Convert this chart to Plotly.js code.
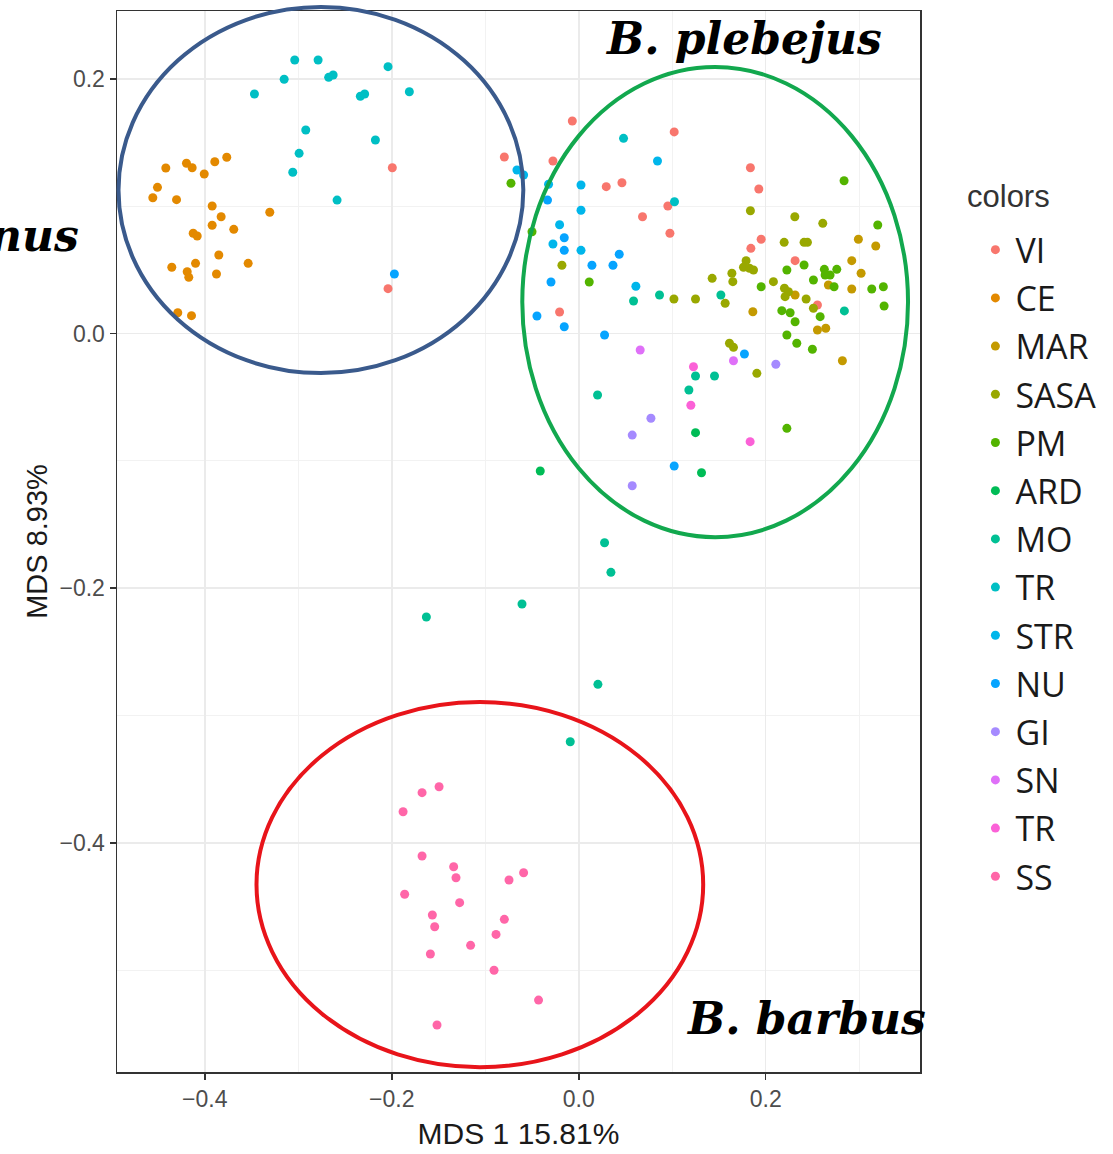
<!DOCTYPE html>
<html>
<head>
<meta charset="utf-8">
<script src="https://cdn.plot.ly/plotly-3.0.1.min.js"></script>
<style>html,body{margin:0;padding:0;background:#fff;}#chart{width:1113px;height:1154px;}</style>
</head>
<body>
<div id="chart"></div>
<script>
// ---- data (MDS coordinates) ----
var groupNames = ["VI","CE","MAR","SASA","PM","ARD","MO","TR","STR","NU","GI","SN","TR","SS"];
var groupColors = ["#F8766D","#E38900","#C49A00","#99A800","#53B400","#00BC56","#00C094","#00BFC4","#00B6EB","#06A4FF","#A58AFF","#DF70F8","#FB61D7","#FF66A8"];

var viX = [-0.0069,0.1021,-0.0796,-0.0276,0.0294,0.0462,0.0953,0.0682,0.0975,0.1836,0.1926,0.1951,0.1841,0.2314,-0.0205,-0.1994,-0.2040,0.2553];
var viY = [0.1670,0.1584,0.1387,0.1356,0.1154,0.1185,0.1002,0.0918,0.0788,0.1303,0.1136,0.0741,0.0670,0.0573,0.0170,0.1303,0.0353,0.0225];

var ceX = [-0.4417,-0.4196,-0.4135,-0.4006,-0.3893,-0.3765,-0.4506,-0.4556,-0.4302,-0.3921,-0.3825,-0.3305,-0.3921,-0.3690,-0.4124,-0.4081,-0.3850,-0.3536,-0.4353,-0.4188,-0.4171,-0.4099,-0.3875,-0.4289,-0.4142];
var ceY = [0.1301,0.1338,0.1303,0.1254,0.1350,0.1385,0.1149,0.1067,0.1052,0.1002,0.0918,0.0953,0.0851,0.0819,0.0788,0.0767,0.0617,0.0552,0.0521,0.0486,0.0442,0.0552,0.0468,0.0164,0.0141];

var marX = [0.2991,0.3177,0.2920,0.3020,0.2920,0.1862,0.2553,0.2642,0.2820,0.2670,0.2314];
var marY = [0.0741,0.0688,0.0573,0.0474,0.0350,0.0172,0.0028,0.0042,-0.0213,0.0382,0.0303];

var sasaX = [0.2197,0.2410,0.2446,0.2610,0.1836,0.2311,0.1790,0.1762,0.1826,0.1869,0.1638,0.1648,0.2082,0.1427,0.1566,0.1018,0.1249,0.2200,0.2243,0.2207,0.2432,0.2510,0.1612,0.1655,0.1905,-0.0180];
var sasaY = [0.0717,0.0717,0.0717,0.0866,0.0965,0.0918,0.0573,0.0521,0.0513,0.0500,0.0474,0.0408,0.0408,0.0434,0.0238,0.0272,0.0272,0.0356,0.0329,0.0290,0.0272,0.0199,-0.0076,-0.0108,-0.0312,0.0537];

var pmX = [-0.0725,0.0112,-0.0500,0.2838,0.3198,0.2410,0.2226,0.2627,0.2760,0.2688,0.2635,0.2510,0.1951,0.2731,0.3134,0.3258,0.3266,0.2172,0.2261,0.2314,0.2582,0.2226,0.2332,0.2499,0.2226];
var pmY = [0.1181,0.0405,0.0800,0.1201,0.0853,0.0539,0.0500,0.0505,0.0505,0.0460,0.0460,0.0421,0.0368,0.0368,0.0350,0.0368,0.0217,0.0180,0.0164,0.0093,0.0133,-0.0011,-0.0076,-0.0123,-0.0744];

var ardX = [0.1249,-0.0412,0.1313];
var ardY = [-0.0778,-0.1079,-0.1093];

var moX = [0.0586,0.0864,0.1520,0.2841,0.1249,0.1452,0.1178,0.0201,0.0276,0.0344,-0.0607,-0.1630,0.0205,-0.0091];
var moY = [0.0256,0.0303,0.0303,0.0178,-0.0333,-0.0333,-0.0443,-0.0482,-0.1643,-0.1875,-0.2124,-0.2226,-0.2755,-0.3206];

var trX = [-0.3038,-0.2788,-0.3151,-0.2675,-0.2627,-0.2040,-0.3469,-0.2336,-0.2290,-0.1812,-0.2920,-0.2175,-0.2991,-0.3059,-0.2585,0.0479,0.1024];
var trY = [0.2149,0.2149,0.1998,0.2013,0.2031,0.2097,0.1882,0.1864,0.1882,0.1900,0.1599,0.1521,0.1416,0.1267,0.1049,0.1534,0.1036];

var strX = [0.0842,0.0024,0.0024,-0.0661,-0.0590,-0.0323,-0.0205,-0.0276,0.0024,0.0611];
var strY = [0.1356,0.1167,0.0969,0.1285,0.1246,0.1173,0.0855,0.0704,0.0654,0.0372];

var nuX = [-0.0334,-0.0155,-0.0155,0.0141,0.0366,0.0433,-0.0297,-0.0447,-0.0155,0.0276,0.1772,0.1021,-0.1972];
var nuY = [0.1049,0.0753,0.0654,0.0537,0.0537,0.0623,0.0405,0.0138,0.0054,-0.0011,-0.0160,-0.1040,0.0468];

var giX = [0.0772,0.0572,0.0572,0.2108];
var giY = [-0.0665,-0.0797,-0.1195,-0.0241];

var snX = [0.0657,0.1655];
var snY = [-0.0129,-0.0213];

var tr2X = [0.1227,0.1199,0.1833];
var tr2Y = [-0.0260,-0.0563,-0.0849];

var ssX = [-0.1494,-0.1676,-0.1879,-0.1676,-0.1338,-0.1313,-0.0746,-0.0590,-0.1862,-0.1274,-0.1566,-0.1541,-0.0796,-0.0885,-0.1157,-0.1587,-0.0906,-0.0430,-0.1516];
var ssY = [-0.3559,-0.3606,-0.3756,-0.4103,-0.4188,-0.4274,-0.4292,-0.4235,-0.4404,-0.4470,-0.4567,-0.4659,-0.4601,-0.4719,-0.4805,-0.4873,-0.5001,-0.5235,-0.5431];

var xTicks = [-0.4,-0.2,0,0.2];
var yTicks = [-0.4,-0.2,0,0.2];
var xMinor = [-0.3,-0.1,0.1,0.3];
var yMinor = [-0.5,-0.3,-0.1,0.1];

// group ellipses (data units): [x0, x1, y0, y1]
var ellBlue  = [-0.4923,-0.0593,-0.0310,0.2566];
var ellGreen = [-0.0604,0.3522,-0.1599,0.2094];
var ellRed   = [-0.3447,0.1331,-0.5762,-0.2894];

var xRange = [-0.4939,0.3650];
var yRange = [-0.5800,0.2534];

// ---- build ----
var xs = [viX,ceX,marX,sasaX,pmX,ardX,moX,trX,strX,nuX,giX,snX,tr2X,ssX];
var ys = [viY,ceY,marY,sasaY,pmY,ardY,moY,trY,strY,nuY,giY,snY,tr2Y,ssY];
var traces = groupNames.map(function(n,i){
  return {type:'scatter', mode:'markers', name:n, x:xs[i], y:ys[i],
    legendgroup:'g'+i,
    marker:{color:groupColors[i], size:9, line:{width:0}}, hoverinfo:'x+y+name'};
});

function px(v){return (v-xRange[0])/(xRange[1]-xRange[0]);}
function py(v){return (v-yRange[0])/(yRange[1]-yRange[0]);}
function ell(e,col){
  return {type:'circle', xref:'paper', yref:'paper', x0:px(e[0]), x1:px(e[1]), y0:py(e[2]), y1:py(e[3]),
    line:{color:col, width:4}, layer:'above', fillcolor:'rgba(0,0,0,0)'};
}

var serif = {family:'"DejaVu Serif", serif', size:44, color:'#000000'};
var sans = '"Liberation Sans", Arial, sans-serif';

var layout = {
  width:1113, height:1154,
  margin:{l:117, r:193, t:11, b:82},
  paper_bgcolor:'#ffffff', plot_bgcolor:'#ffffff',
  showlegend:true,
  font:{family:sans, color:'#4D4D4D'},
  xaxis:{range:xRange, tickmode:'array', tickvals:xTicks, tickformat:'.1f',
    showgrid:true, gridcolor:'#EBEBEB', gridwidth:1.5, zeroline:false,
    showline:true, mirror:true, linecolor:'#333333', linewidth:1.5,
    ticks:'outside', ticklen:6, tickwidth:1.5, tickcolor:'#333333',
    tickfont:{size:23, color:'#4D4D4D', family:sans},
    minor:{tickvals:xMinor, showgrid:true, gridcolor:'#F2F2F2', gridwidth:1, ticks:''},
    title:{text:'MDS 1 15.81%', font:{size:30, color:'#1A1A1A', family:sans}, standoff:12},
    automargin:false},
  yaxis:{range:yRange, tickmode:'array', tickvals:yTicks, tickformat:'.1f',
    showgrid:true, gridcolor:'#EBEBEB', gridwidth:1.5, zeroline:false,
    showline:true, mirror:true, linecolor:'#333333', linewidth:1.5,
    ticks:'outside', ticklen:6, tickwidth:1.5, tickcolor:'#333333',
    tickfont:{size:23, color:'#4D4D4D', family:sans},
    minor:{tickvals:yMinor, showgrid:true, gridcolor:'#F2F2F2', gridwidth:1, ticks:''},
    title:{text:'MDS 8.93%', font:{size:29, color:'#1A1A1A', family:sans}, standoff:3},
    automargin:false},
  legend:{x:1.069, xanchor:'left', y:0.802, yanchor:'top',
    font:{family:'"Open Sans", sans-serif', size:34, color:'#1A1A1A'},
    tracegroupgap:1, itemsizing:'trace', bgcolor:'rgba(0,0,0,0)'},
  shapes:[ell(ellBlue,'#3A5A8C'), ell(ellGreen,'#12A84E'), ell(ellRed,'#E8141A')],
  annotations:[
    {xref:'paper', yref:'paper', x:1.056, y:0.8247, xanchor:'left', yanchor:'middle', showarrow:false,
     text:'colors', font:{family:sans, size:31, color:'#333333'}},
    {xref:'paper', yref:'paper', x:px(0.0262), y:py(0.2320), xanchor:'left', yanchor:'middle', showarrow:false,
     text:'<b><i>B. plebejus</i></b>', font:serif},
    {xref:'paper', yref:'paper', x:px(0.1125), y:py(-0.5376), xanchor:'left', yanchor:'middle', showarrow:false,
     text:'<b><i>B. barbus</i></b>', font:serif},
    {xref:'paper', yref:'paper', x:px(-0.5328), y:py(0.0770), xanchor:'right', yanchor:'middle', showarrow:false,
     text:'<b><i>nus</i></b>', font:serif}
  ]
};

Plotly.newPlot('chart', traces, layout, {displayModeBar:false, staticPlot:true});
</script>
</body>
</html>
